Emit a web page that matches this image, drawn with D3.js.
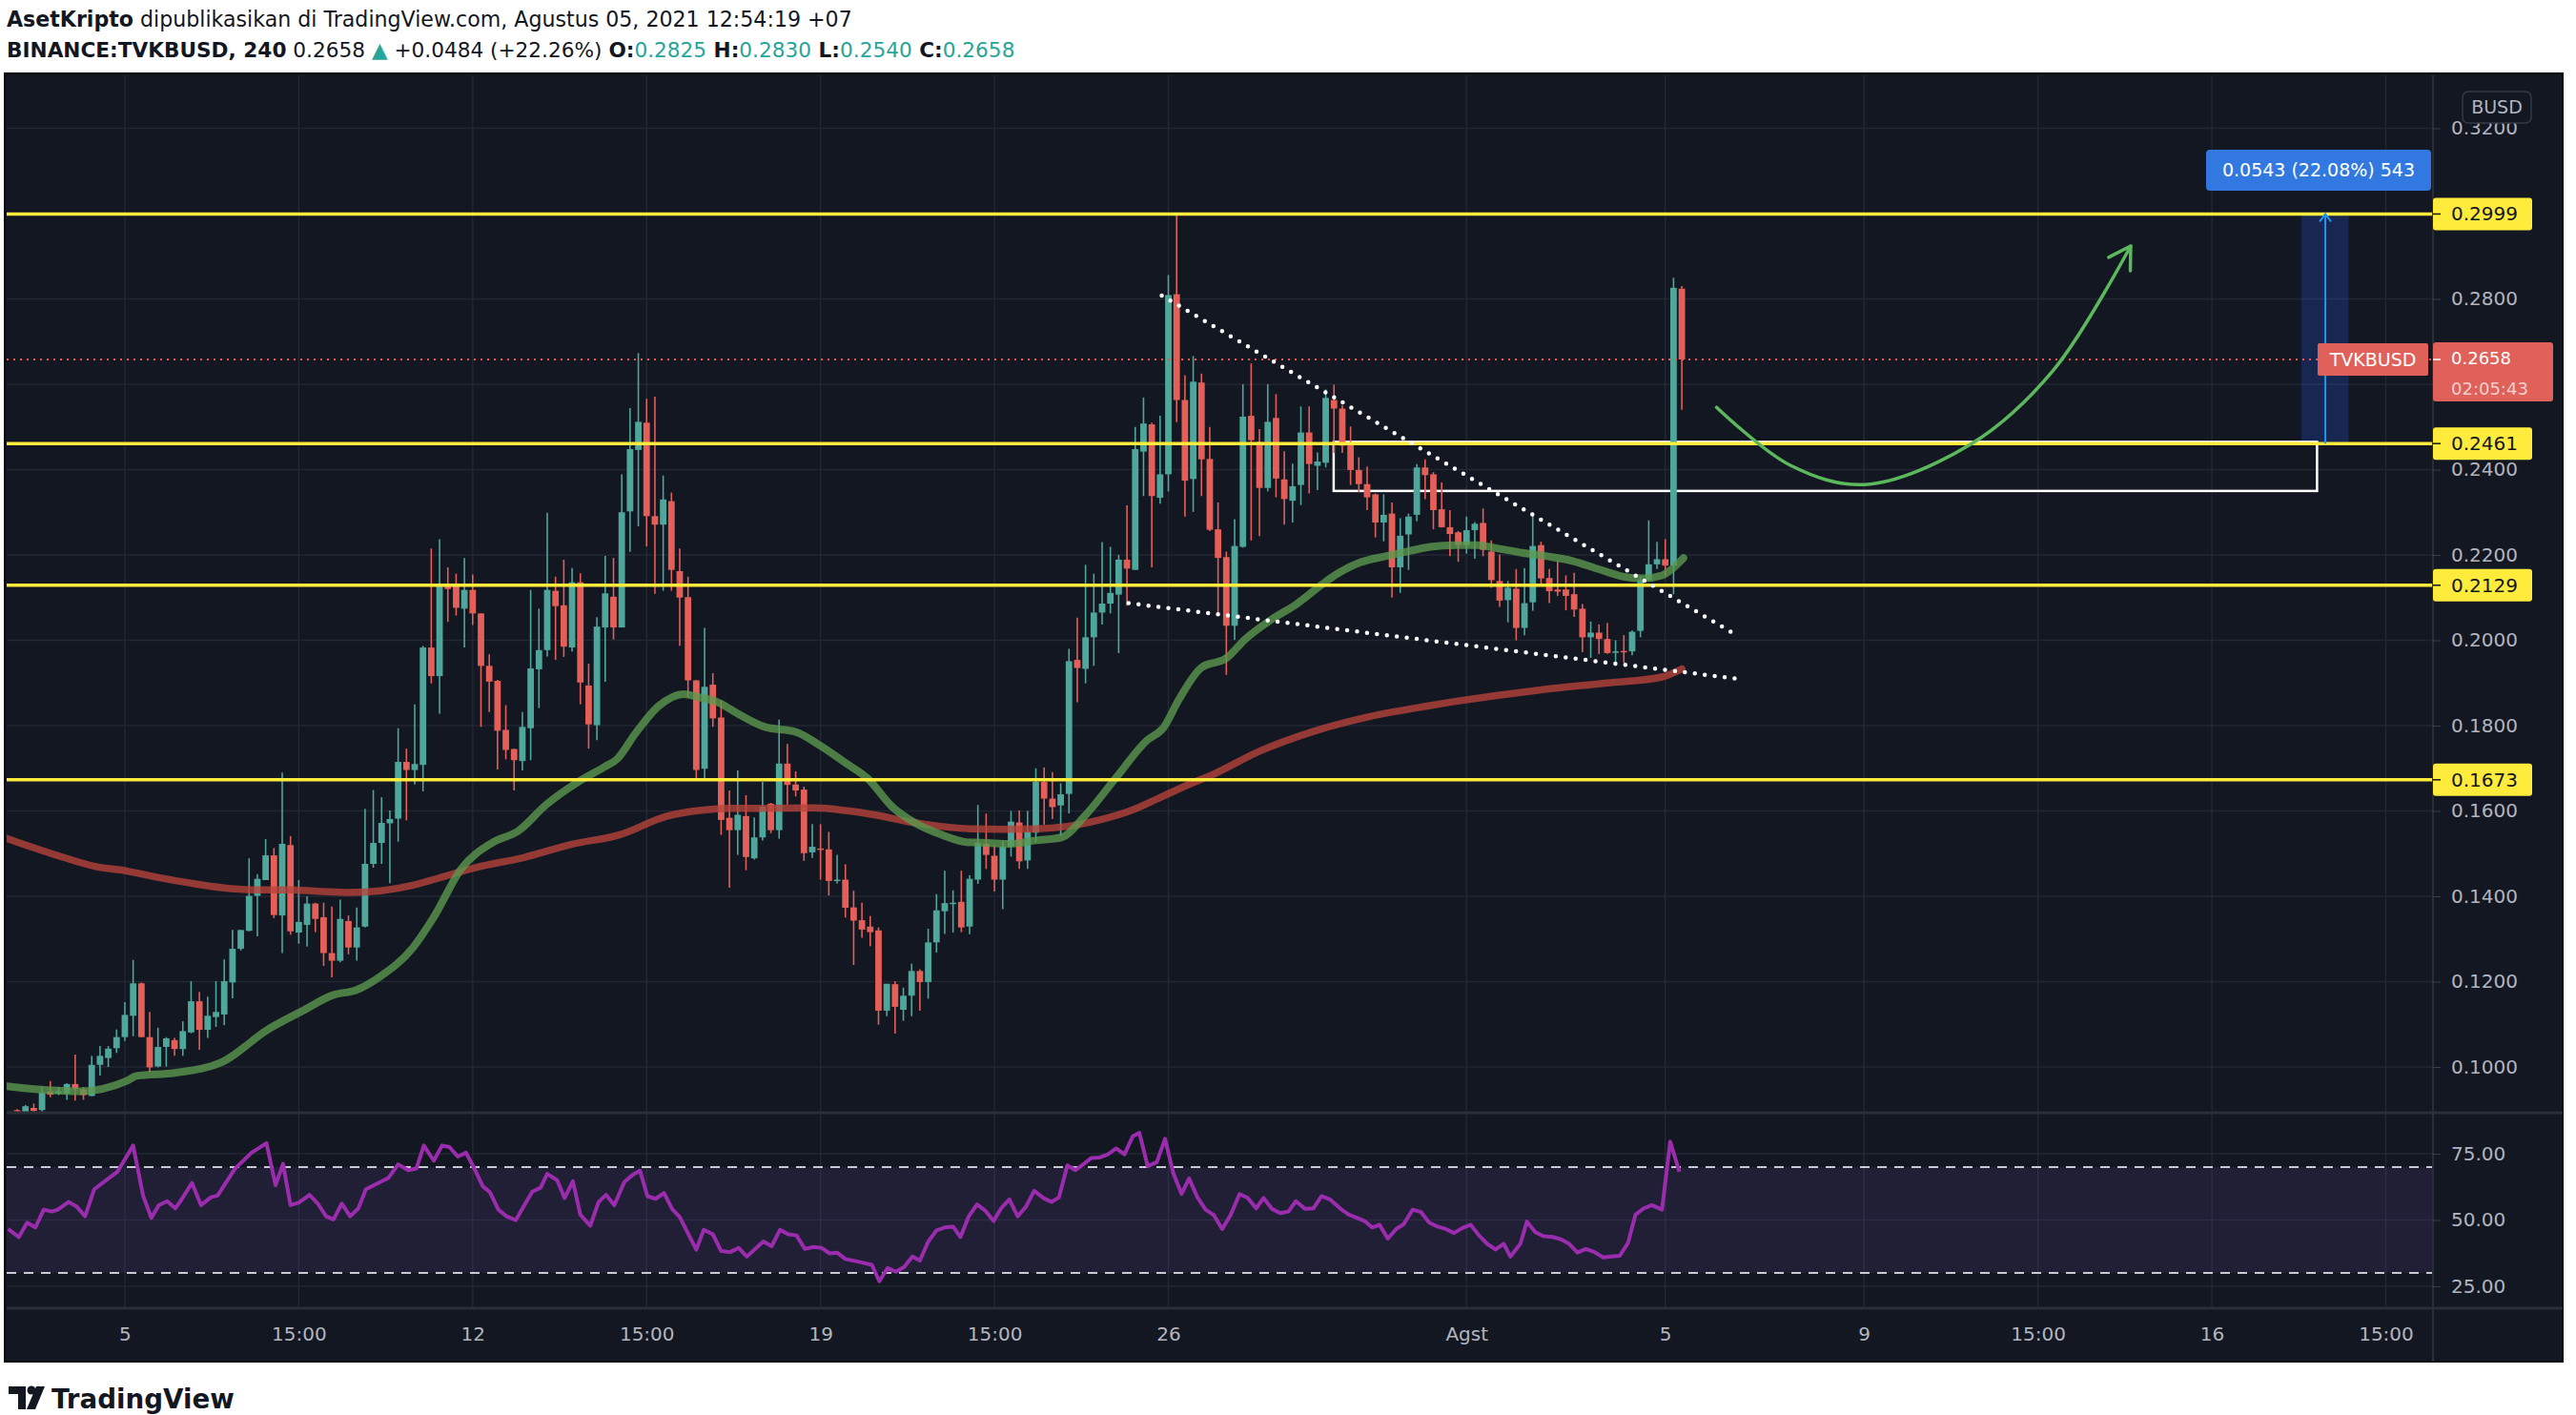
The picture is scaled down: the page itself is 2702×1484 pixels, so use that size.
<!DOCTYPE html>
<html lang="en">
<head>
<meta charset="UTF-8">
<title>TVKBUSD 240</title>
<script src="https://d3js.org/d3.v7.min.js"></script>
<style>
  body { margin: 0; background: #ffffff; }
  text { font-family: "DejaVu Sans", sans-serif; }
</style>
</head>
<body>
<script>

//Width and height
var w = 2702;
var h = 1484;

//4h candles, bar 0 = first visible bar
var open = [.0899,.0894,.0904,.0899,.0943,.0938,.0938,.0960,.0947,.0932,
  .1005,.1021,.1044,.1070,.1120,.1196,.1070,.1001,.1047,.1063,
  .1042,.1081,.1154,.1087,.1117,.1123,.1198,.1277,.1319,.1401,
  .1438,.1496,.1355,.1520,.1315,.1333,.1383,.1351,.1267,.1249,
  .1342,.1280,.1329,.1476,.1525,.1571,.1582,.1715,.1696,.1708,
  .1983,.1916,.2129,.2129,.2074,.2118,.2063,.1940,.1905,.1790,
  .1745,.1717,.1794,.1932,.1977,.2116,.2082,.1983,.2136,.1894,
  .1801,.2030,.2102,.2030,.2302,.2446,.2510,.2291,.2271,.2326,
  .2162,.2101,.1906,.1699,.1896,.1819,.1584,.1555,.1588,.1489,
  .1538,.1617,.1555,.1711,.1662,.1650,.1503,.1512,.1510,.1436,
  .1439,.1374,.1344,.1329,.1320,.1132,.1194,.1134,.1167,.1225,
  .1199,.1292,.1365,.1382,.1387,.1329,.1439,.1523,.1495,.1439,
  .1517,.1573,.1484,.1549,.1668,.1629,.1613,.1640,.1954,.1933,
  .2007,.2065,.2086,.2107,.2189,.2165,.2442,.2506,.2334,.2389,
  .2811,.2563,.2378,.2604,.2425,.2260,.2195,.2034,.2219,.2526,
  .2465,.2357,.2521,.2377,.2327,.2364,.2487,.2409,.2416,.2563,
  .2543,.2459,.2399,.2366,.2342,.2276,.2297,.2171,.2248,.2294,
  .2405,.2389,.2307,.2265,.2253,.2223,.2258,.2275,.2208,.2139,
  .2094,.2121,.2029,.2089,.2223,.2146,.2119,.2119,.2108,.2074,
  .2007,.2018,.2003,.1971,.1975,.1974,.2022,.2141,.2178,.2190,
  .2175,.2824];
var high = [.0901,.0911,.0914,.0953,.0967,.0953,.0962,.1029,.0953,.1026,
  .1049,.1049,.1088,.1152,.1251,.1198,.1129,.1092,.1070,.1068,
  .1107,.1201,.1176,.1165,.1201,.1252,.1321,.1321,.1489,.1452,
  .1534,.1513,.1690,.1541,.1438,.1400,.1385,.1385,.1376,.1392,
  .1355,.1374,.1605,.1649,.1632,.1601,.1794,.1746,.1850,.1987,
  .2215,.2237,.2171,.2156,.2193,.2154,.2063,.1967,.1907,.1848,
  .1746,.1832,.2118,.2074,.2299,.2149,.2189,.2169,.2157,.1945,
  .2054,.2198,.2193,.2389,.2544,.2673,.2566,.2571,.2386,.2346,
  .2215,.2149,.1907,.2029,.1923,.1859,.1648,.1695,.1637,.1585,
  .1668,.1619,.1814,.1757,.1693,.1657,.1569,.1569,.1551,.1497,
  .1475,.1413,.1385,.1354,.1327,.1195,.1201,.1186,.1242,.1229,
  .1324,.1405,.1460,.1414,.1460,.1449,.1614,.1594,.1519,.1531,
  .1600,.1601,.1600,.1700,.1702,.1691,.1665,.1980,.2053,.2177,
  .2156,.2230,.2219,.2200,.2316,.2500,.2569,.2510,.2526,.2856,
  .3000,.2621,.2666,.2625,.2500,.2323,.2208,.2284,.2600,.2649,
  .2495,.2600,.2577,.2443,.2414,.2548,.2548,.2440,.2588,.2599,
  .2551,.2501,.2429,.2407,.2344,.2342,.2323,.2286,.2297,.2413,
  .2424,.2394,.2370,.2305,.2256,.2290,.2277,.2309,.2234,.2201,
  .2139,.2167,.2169,.2299,.2231,.2167,.2186,.2152,.2158,.2085,
  .2044,.2037,.2041,.2000,.2012,.2023,.2149,.2281,.2231,.2237,
  .2850,.2830];
var low = [.0894,.0893,.0895,.0894,.0929,.0934,.0923,.0921,.0923,.0932,
  .0980,.1000,.1033,.1061,.1072,.1070,.0988,.0999,.1001,.1026,
  .1026,.1079,.1040,.1068,.1094,.1098,.1161,.1273,.1318,.1306,
  .1438,.1349,.1267,.1310,.1289,.1282,.1316,.1237,.1210,.1245,
  .1264,.1249,.1327,.1467,.1476,.1431,.1528,.1578,.1662,.1646,
  .1899,.1828,.2043,.2058,.1983,.2036,.1797,.1832,.1697,.1721,
  .1648,.1695,.1719,.1841,.1962,.1954,.1961,.1974,.1850,.1746,
  .1766,.1903,.2002,.2030,.2207,.2267,.2220,.2109,.2116,.2116,
  .1987,.1867,.1674,.1677,.1797,.1544,.1420,.1497,.1461,.1486,
  .1531,.1548,.1535,.1615,.1634,.1483,.1490,.1439,.1402,.1430,
  .1350,.1239,.1303,.1283,.1099,.1119,.1078,.1108,.1119,.1132,
  .1160,.1268,.1312,.1315,.1316,.1311,.1429,.1464,.1411,.1370,
  .1493,.1464,.1464,.1527,.1568,.1581,.1542,.1594,.1855,.1899,
  .1940,.2037,.2063,.1970,.2081,.2165,.2338,.2171,.2320,.2349,
  .2511,.2290,.2301,.2338,.2256,.2063,.1919,.2001,.2217,.2234,
  .2244,.2349,.2335,.2271,.2276,.2317,.2344,.2352,.2405,.2439,
  .2439,.2364,.2347,.2305,.2241,.2232,.2100,.2111,.2165,.2279,
  .2331,.2260,.2264,.2197,.2184,.2203,.2191,.2197,.2123,.2078,
  .2042,.2000,.2012,.2069,.2130,.2087,.2104,.2070,.2055,.1972,
  .1959,.1968,.1968,.1940,.1947,.1965,.2007,.2141,.2167,.2151,
  .2108,.2540];
var close = [.0896,.0908,.0897,.0940,.0935,.0943,.0960,.0949,.0934,.1005,
  .1026,.1043,.1070,.1122,.1196,.1070,.0999,.1047,.1067,.1042,
  .1084,.1154,.1087,.1120,.1129,.1201,.1277,.1321,.1401,.1441,
  .1496,.1356,.1523,.1318,.1340,.1383,.1347,.1267,.1249,.1347,
  .1280,.1327,.1476,.1525,.1572,.1581,.1715,.1696,.1710,.1983,
  .1916,.2129,.2120,.2076,.2118,.2063,.1940,.1903,.1788,.1743,
  .1719,.1797,.1934,.1977,.2118,.2080,.1985,.2136,.1901,.1803,
  .2032,.2110,.2030,.2300,.2448,.2512,.2291,.2271,.2330,.2165,
  .2100,.1906,.1696,.1891,.1817,.1579,.1555,.1591,.1492,.1538,
  .1610,.1555,.1711,.1661,.1648,.1501,.1516,.1510,.1436,.1439,
  .1373,.1343,.1322,.1316,.1132,.1195,.1141,.1167,.1225,.1199,
  .1292,.1367,.1384,.1385,.1327,.1441,.1525,.1497,.1439,.1517,
  .1575,.1482,.1551,.1668,.1629,.1609,.1639,.1951,.1935,.2007,
  .2065,.2086,.2111,.2189,.2168,.2448,.2508,.2338,.2389,.2809,
  .2563,.2374,.2606,.2424,.2259,.2193,.2034,.2221,.2524,.2469,
  .2357,.2512,.2379,.2331,.2361,.2487,.2413,.2419,.2568,.2543,
  .2456,.2399,.2366,.2335,.2276,.2294,.2171,.2245,.2290,.2405,
  .2387,.2305,.2265,.2249,.2223,.2258,.2273,.2212,.2141,.2093,
  .2123,.2029,.2087,.2221,.2145,.2115,.2114,.2104,.2072,.2007,
  .2018,.2003,.1970,.1974,.1972,.2020,.2141,.2178,.2190,.2175,
  .2826,.2658];

//Moving averages, read at bar positions
var greenBar = [-1.3,2.9,7.5,13.3,14.4,19,24.8,30.2,34.4,38.2,40.9,43.9,47.8,50.3,53.6,57.4,60.5,63.9,67.4,70.9,72.4,74.7,77.4,80.5,82.0,84.7,87.0,90.1,94.2,96.9,100,102.7,105.7,108.4,111.5,114.6,117.2,119.9,123,126.1,128.8,132.6,136.4,138.4,140.3,143.0,146.0,148.3,151.4,154.5,157.5,159.1,162.1,165.2,168.3,170.6,173.6,176.3,178.6,181.7,184.7,187.8,190.9,194,196.3,198.6,199.8,201.2];
var greenVal = [.0955,.0947,.0943,.0968,.0979,.0986,.1012,.1087,.1131,.1169,.1180,.1213,.1280,.1351,.1464,.1526,.1553,.1615,.1664,.1703,.1721,.1783,.1845,.1874,.1868,.1854,.1828,.1798,.1784,.1754,.1713,.1676,.1609,.1572,.1545,.1527,.1525,.1523,.1531,.1538,.1586,.1676,.1765,.1795,.1862,.1936,.1958,.2003,.2048,.2085,.2130,.2152,.2182,.2197,.2210,.2219,.2223,.2223,.2216,.2205,.2197,.2186,.2167,.2149,.2145,.2152,.2167,.2193];
var redBar = [-1.3,1.8,5.6,9.4,13.3,17.1,20.9,24.8,28.6,32.5,36.3,40.1,43.9,47.8,49.7,55.5,61.2,67,72.7,78.5,82.3,86.2,90,96.2,100,103.8,107.6,111.5,115.3,119.1,123,126.8,130.7,134.5,138.4,142.2,144.1,150,156.6,163,170.6,184,192,198.6,201];
var redVal = [.1536,.1515,.1491,.1470,.1459,.1444,.1431,.1420,.1415,.1415,.1412,.1409,.1413,.1426,.1436,.1468,.1491,.1522,.1544,.1588,.1601,.1606,.1606,.1607,.1601,.1590,.1575,.1564,.1558,.1557,.1558,.1564,.1579,.1601,.1635,.1668,.1683,.1740,.1787,.1820,.1847,.1884,.1900,.1914,.1933];

//RSI, read at bar positions
var rsiBar = [-1.1,0.2,1.2,2.2,3.2,4.2,4.9,6.2,7.2,8.2,9.3,12.1,14.0,15.2,16.2,17.1,18.1,19.1,19.9,21.1,22.2,23.4,24.2,26.3,28.3,30.1,31.2,32.1,33.0,34.0,35.3,36.3,37.3,38.2,39.2,40.2,41.2,42.1,44.8,46.0,47.2,48.2,49.1,50.3,51.3,52.2,53.2,54.2,55.3,56.2,57.1,58.1,59.1,60.2,61.2,62.2,63.2,64.0,65.2,66.1,67.1,68.0,69.2,70.2,71.1,72.1,73.3,74.3,75.2,76.1,77.1,78.1,79.1,80.0,82.0,82.9,84.0,85.0,86.1,87.1,88.1,90.1,91.1,92.1,93.1,94.1,95.1,96.1,97.1,98.1,99.0,100.0,101.5,103.2,104.1,105.1,106.1,107.1,108.1,109.0,110.0,111.0,112.0,113.0,113.9,114.9,115.9,116.9,117.9,118.8,119.8,120.8,121.8,122.8,123.9,124.9,125.8,126.8,127.8,128.8,129.7,130.7,131.7,132.7,133.7,134.7,135.5,136.5,137.6,138.6,139.6,140.6,141.5,142.5,143.5,144.5,145.5,146.5,147.6,148.6,149.6,150.5,151.5,152.5,153.5,154.4,155.5,156.5,157.5,158.5,159.8,160.8,161.8,162.8,163.6,164.5,165.5,166.5,167.4,168.5,169.5,170.5,171.5,172.5,173.5,174.5,175.5,176.5,177.5,178.5,179.5,180.3,181.5,182.3,183.3,184.3,185.4,186.4,187.4,188.4,189.4,190.4,191.5,192.5,193.5,194.5,195.4,196.4,197.4,198.6,199.6,200.7];
var rsiVal = [46.6,43.6,49.0,47.2,53.9,53.2,53.9,56.8,55.0,51.4,61.6,68.2,78.1,59.2,50.8,55.6,57.1,54.4,58.0,64.0,55.6,58.6,59.2,69.4,75.4,79.0,63.1,71.2,55.6,56.5,59.5,56.2,51.4,50.2,56.2,51.4,54.4,61.6,65.8,71.0,68.8,69.4,78.1,72.4,78.1,77.5,73.9,75.4,68.8,62.8,60.4,53.9,51.4,49.9,55.4,60.7,62.2,67.4,65.0,58.3,64.6,52.0,47.8,56.8,59.5,55.6,64.3,67.0,68.6,59.0,58.0,60.2,54.1,51.1,38.8,46.3,44.6,38.3,37.9,39.5,36.2,41.9,40.1,46.3,44.6,44.2,39.1,39.8,39.5,37.4,37.7,35.3,34.3,33.1,26.9,31.9,30.5,32.3,36.2,34.7,41.8,46.1,47.2,47.5,43.6,51.4,55.9,53.5,49.6,54.4,57.8,51.4,55.0,61.0,58.3,56.8,58.6,70.6,68.8,71.2,73.4,73.6,74.8,77.0,74.8,81.6,82.9,70.3,71.8,80.6,67.6,59.8,65.7,58.6,53.9,51.8,46.6,51.8,59.8,58.3,54.4,58.3,54.2,52.6,53.2,57.1,54.2,54.4,59.0,57.8,54.2,52.0,50.8,49.4,47.2,48.2,43.0,46.6,48.4,53.9,53.0,49.0,47.5,46.6,45.1,47.0,48.2,44.2,41.0,38.9,41.0,36.2,41.0,49.4,45.4,43.9,43.6,42.7,41.0,37.7,39.1,38.0,35.9,36.2,36.5,41.3,52.0,54.4,55.6,53.9,79.6,68.2];

//Axis ticks and labels (0.26 and 0.30 sit under the price labels, so only their grid lines show)
var priceTicks = [0.10,0.12,0.14,0.16,0.18,0.20,0.22,0.24,0.26,0.28,0.30,0.32];
var priceLabelTicks = [0.10,0.12,0.14,0.16,0.18,0.20,0.22,0.24,0.28,0.32];
var rsiTicks = [25,50,75];
var timeTickBar = [13,34,55,76,97,118,139,175,199,223,244,265,286];
var timeTickLabel = ["5","15:00","12","15:00","19","15:00","26","Agst","5","9","15:00","16","15:00"];

//Drawn levels and annotations
var levels = [0.2999, 0.2461, 0.2129, 0.1673];
var lastPrice = 0.2658;
var upperTrendBar = [138.2, 207.6], upperTrendPrice = [0.2808, 0.2012];
var lowerTrendBar = [134.2, 207.6], lowerTrendPrice = [0.2087, 0.1910];
var boxBar = [158.96, 277.7], boxPrice = [0.2465, 0.2350];
var rangeBar = [275.8, 281.5, 278.7], rangePrice = [0.2461, 0.2999];
var arrowBar = [205.2, 214.1, 223.1, 236.0, 245.9, 255.2];
var arrowPrice = [0.2546, 0.2410, 0.2365, 0.2461, 0.2634, 0.2924];

//Layout
var left = 7, right = 2552, paneTop = 79, paneBottom = 1167, rsiBottom = 1372, chartBottom = 1428;
var upColor = "#4fa69a", downColor = "#e35f57", gridColor = "#232733", textColor = "#b2b5be";

//Create scale functions
var xScale = d3.scaleLinear().domain([-1.27, 291.7]).range([left, right]);
var yScale = d3.scaleLinear().domain([0.1, 0.32]).range([1119, 134.5]);
var rScale = d3.scaleLinear().domain([25, 75]).range([1349, 1210]);

//Create SVG element
var svg = d3.select("body")
    .append("svg")
    .attr("width", w)
    .attr("height", h);

svg.append("rect").attr("width", w).attr("height", h).attr("fill", "#ffffff");
svg.append("rect")
    .attr("x", 5).attr("y", paneTop - 2)
    .attr("width", 2688 - 5).attr("height", chartBottom - paneTop + 2)
    .attr("fill", "#131722").attr("stroke", "#050608").attr("stroke-width", 2);

var defs = svg.append("defs");
defs.append("clipPath").attr("id", "mainClip").append("rect")
    .attr("x", left).attr("y", paneTop).attr("width", right - left).attr("height", paneBottom - paneTop);
defs.append("clipPath").attr("id", "rsiClip").append("rect")
    .attr("x", left).attr("y", paneBottom).attr("width", right - left).attr("height", rsiBottom - paneBottom);

//Grid
svg.append("g").selectAll("line").data(priceTicks).enter().append("line")
    .attr("x1", left).attr("x2", right)
    .attr("y1", function(d) { return yScale(d); }).attr("y2", function(d) { return yScale(d); })
    .attr("stroke", gridColor).attr("stroke-width", 1.5);
svg.append("g").selectAll("line").data(rsiTicks).enter().append("line")
    .attr("x1", left).attr("x2", right)
    .attr("y1", function(d) { return rScale(d); }).attr("y2", function(d) { return rScale(d); })
    .attr("stroke", gridColor).attr("stroke-width", 1.5);
svg.append("g").selectAll("line").data(timeTickBar).enter().append("line")
    .attr("x1", function(d) { return xScale(d); }).attr("x2", function(d) { return xScale(d); })
    .attr("y1", paneTop).attr("y2", rsiBottom)
    .attr("stroke", gridColor).attr("stroke-width", 1.5);

//RSI pane
var rsiG = svg.append("g").attr("clip-path", "url(#rsiClip)");
rsiG.append("rect")
    .attr("x", left).attr("width", right - left)
    .attr("y", rScale(70)).attr("height", rScale(30) - rScale(70))
    .attr("fill", "#7e57c2").attr("opacity", 0.13);
rsiG.selectAll("line.band").data([70, 30]).enter().append("line")
    .attr("x1", left).attr("x2", right)
    .attr("y1", function(d) { return rScale(d); }).attr("y2", function(d) { return rScale(d); })
    .attr("stroke", "#c8cad2").attr("stroke-width", 2).attr("stroke-dasharray", "10 8");
var rsiLine = d3.line()
    .x(function(d, i) { return xScale(rsiBar[i]); })
    .y(function(d) { return rScale(d); });
rsiG.append("path").attr("d", rsiLine(rsiVal))
    .attr("fill", "none").attr("stroke", "#9b2cad").attr("stroke-width", 4)
    .attr("stroke-linejoin", "round");

//Main pane
var mainG = svg.append("g").attr("clip-path", "url(#mainClip)");

//Price range tool and white box
mainG.append("rect")
    .attr("x", xScale(rangeBar[0])).attr("width", xScale(rangeBar[1]) - xScale(rangeBar[0]))
    .attr("y", yScale(rangePrice[1])).attr("height", yScale(rangePrice[0]) - yScale(rangePrice[1]))
    .attr("fill", "#2962ff").attr("opacity", 0.22);
mainG.append("rect")
    .attr("x", xScale(boxBar[0])).attr("width", xScale(boxBar[1]) - xScale(boxBar[0]))
    .attr("y", yScale(boxPrice[0])).attr("height", yScale(boxPrice[1]) - yScale(boxPrice[0]))
    .attr("fill", "none").attr("stroke", "#ffffff").attr("stroke-width", 2.5);

//Candles
var bars = d3.range(open.length);
mainG.selectAll("line.wick").data(bars).enter().append("line")
    .attr("x1", function(i) { return xScale(i); }).attr("x2", function(i) { return xScale(i); })
    .attr("y1", function(i) { return yScale(high[i]); }).attr("y2", function(i) { return yScale(low[i]); })
    .attr("stroke", function(i) { return close[i] >= open[i] ? upColor : downColor; })
    .attr("stroke-width", 1.6);
mainG.selectAll("rect.body").data(bars).enter().append("rect")
    .attr("x", function(i) { return xScale(i) - 3.4; })
    .attr("width", 6.8)
    .attr("y", function(i) { return yScale(Math.max(open[i], close[i])); })
    .attr("height", function(i) { return Math.max(1.5, Math.abs(yScale(open[i]) - yScale(close[i]))); })
    .attr("fill", function(i) { return close[i] >= open[i] ? upColor : downColor; });

//Moving averages
var maLine = d3.line().curve(d3.curveMonotoneX);
mainG.append("path")
    .attr("d", maLine(redBar.map(function(b, i) { return [xScale(b), yScale(redVal[i])]; })))
    .attr("fill", "none").attr("stroke", "#b8433a").attr("stroke-width", 7.5)
    .attr("opacity", 0.78).attr("stroke-linecap", "round");
mainG.append("path")
    .attr("d", maLine(greenBar.map(function(b, i) { return [xScale(b), yScale(greenVal[i])]; })))
    .attr("fill", "none").attr("stroke", "#5b9a4f").attr("stroke-width", 8)
    .attr("opacity", 0.78).attr("stroke-linecap", "round");

//Horizontal levels
mainG.selectAll("line.level").data(levels).enter().append("line")
    .attr("x1", left).attr("x2", right)
    .attr("y1", function(d) { return yScale(d); }).attr("y2", function(d) { return yScale(d); })
    .attr("stroke", "#ffeb3b").attr("stroke-width", 3.5);
mainG.append("line")
    .attr("x1", left).attr("x2", right)
    .attr("y1", yScale(lastPrice)).attr("y2", yScale(lastPrice))
    .attr("stroke", "#ef5350").attr("stroke-width", 2).attr("stroke-dasharray", "2 5");

//Dotted trend lines
[[upperTrendBar, upperTrendPrice], [lowerTrendBar, lowerTrendPrice]].forEach(function(t) {
    mainG.append("line")
        .attr("x1", xScale(t[0][0])).attr("y1", yScale(t[1][0]))
        .attr("x2", xScale(t[0][1])).attr("y2", yScale(t[1][1]))
        .attr("stroke", "#ffffff").attr("stroke-width", 4.5)
        .attr("stroke-linecap", "round").attr("stroke-dasharray", "0 10.5");
});

//Range arrow
mainG.append("line")
    .attr("x1", xScale(rangeBar[2])).attr("x2", xScale(rangeBar[2]))
    .attr("y1", yScale(rangePrice[0])).attr("y2", yScale(rangePrice[1]))
    .attr("stroke", "#2196f3").attr("stroke-width", 2);
mainG.append("path")
    .attr("d", "M" + (xScale(rangeBar[2]) - 6) + "," + (yScale(rangePrice[1]) + 8) +
        "L" + xScale(rangeBar[2]) + "," + yScale(rangePrice[1]) +
        "L" + (xScale(rangeBar[2]) + 6) + "," + (yScale(rangePrice[1]) + 8))
    .attr("fill", "none").attr("stroke", "#2196f3").attr("stroke-width", 2);

//Green curved arrow
var arrowPts = arrowBar.map(function(b, i) { return [xScale(b), yScale(arrowPrice[i])]; });
mainG.append("path")
    .attr("d", d3.line().curve(d3.curveCatmullRom)(arrowPts))
    .attr("fill", "none").attr("stroke", "#5cb85c").attr("stroke-width", 3.5)
    .attr("stroke-linecap", "round");
var tip = arrowPts[arrowPts.length - 1], prev = arrowPts[arrowPts.length - 2];
var ang = Math.atan2(tip[1] - prev[1], tip[0] - prev[0]);
var headPts = [ang + 2.6, ang - 2.6].map(function(a) { return [tip[0] + 26 * Math.cos(a), tip[1] + 26 * Math.sin(a)]; });
mainG.append("path")
    .attr("d", "M" + headPts[0] + "L" + tip + "L" + headPts[1])
    .attr("fill", "none").attr("stroke", "#5cb85c").attr("stroke-width", 3.5)
    .attr("stroke-linecap", "round").attr("stroke-linejoin", "round");

//Pane separators
svg.append("line").attr("x1", left).attr("x2", 2688).attr("y1", paneBottom).attr("y2", paneBottom)
    .attr("stroke", "#2a2e39").attr("stroke-width", 3);
svg.append("line").attr("x1", left).attr("x2", 2688).attr("y1", rsiBottom).attr("y2", rsiBottom)
    .attr("stroke", "#2a2e39").attr("stroke-width", 3);
svg.append("line").attr("x1", right).attr("x2", right).attr("y1", paneTop).attr("y2", chartBottom)
    .attr("stroke", "#2a2e39").attr("stroke-width", 2);

//Axes
var priceAxis = svg.append("g")
    .attr("transform", "translate(" + right + ",0)")
    .call(d3.axisRight(yScale).tickValues(priceLabelTicks).tickFormat(d3.format(".4f")).tickSize(8).tickPadding(11));
var rsiAxis = svg.append("g")
    .attr("transform", "translate(" + right + ",0)")
    .call(d3.axisRight(rScale).tickValues(rsiTicks).tickFormat(d3.format(".2f")).tickSize(8).tickPadding(11));
var timeAxis = svg.append("g")
    .attr("transform", "translate(0," + rsiBottom + ")")
    .call(d3.axisBottom(xScale).tickValues(timeTickBar)
        .tickFormat(function(d, i) { return timeTickLabel[i]; }).tickSize(0).tickPadding(20));
[priceAxis, rsiAxis, timeAxis].forEach(function(a) {
    a.select(".domain").remove();
    a.selectAll("line").attr("stroke", "#3a3e4a");
    a.selectAll("text").attr("fill", textColor).attr("font-size", "20px")
        .attr("font-family", "DejaVu Sans");
});

//Axis labels for levels
function axisLabel(price, fill, txtColor, label) {
    var g = svg.append("g").attr("transform", "translate(" + right + "," + yScale(price) + ")");
    g.append("rect").attr("x", 0).attr("y", -17).attr("width", 104).attr("height", 34)
        .attr("rx", 3).attr("fill", fill);
    g.append("line").attr("x1", 0).attr("x2", 8).attr("stroke", txtColor).attr("stroke-width", 1.5);
    g.append("text").attr("x", 19).attr("y", 7).attr("fill", txtColor)
        .attr("font-size", "20px").text(label);
}
levels.forEach(function(l) { axisLabel(l, "#ffeb3b", "#131722", d3.format(".4f")(l)); });

//Last price label
var lp = svg.append("g").attr("transform", "translate(" + right + "," + yScale(lastPrice) + ")");
lp.append("rect").attr("x", 0).attr("y", -18).attr("width", 126).attr("height", 62)
    .attr("rx", 3).attr("fill", "#e0605a");
lp.append("line").attr("x1", 0).attr("x2", 8).attr("stroke", "#ffffff").attr("stroke-width", 1.5);
lp.append("text").attr("x", 19).attr("y", 5).attr("fill", "#ffffff").attr("font-size", "18px")
    .text(d3.format(".4f")(lastPrice));
lp.append("text").attr("x", 19).attr("y", 37).attr("fill", "#f4d0ce").attr("font-size", "18px")
    .text("02:05:43");
var sym = svg.append("g").attr("transform", "translate(" + (right - 121) + "," + yScale(lastPrice) + ")");
sym.append("rect").attr("x", 0).attr("y", -17).attr("width", 116).attr("height", 34)
    .attr("rx", 2).attr("fill", "#e0605a");
sym.append("text").attr("x", 58).attr("y", 7).attr("text-anchor", "middle")
    .attr("fill", "#ffffff").attr("font-size", "19px").text("TVKBUSD");

//Range label
var rl = svg.append("g").attr("transform", "translate(2314,157)");
rl.append("rect").attr("width", 236).attr("height", 43).attr("rx", 4).attr("fill", "#3179e0");
rl.append("text").attr("x", 118).attr("y", 28).attr("text-anchor", "middle")
    .attr("fill", "#ffffff").attr("font-size", "19px").text("0.0543 (22.08%) 543");

//Currency badge
var cb = svg.append("g").attr("transform", "translate(2583,96)");
cb.append("rect").attr("width", 72).attr("height", 33).attr("rx", 6)
    .attr("fill", "#131722").attr("stroke", "#363a45").attr("stroke-width", 1.5);
cb.append("text").attr("x", 36).attr("y", 23).attr("text-anchor", "middle")
    .attr("fill", textColor).attr("font-size", "19px").text("BUSD");

//Header, font size fitted to the measured width
var hdrFont = "'Liberation Sans Narrow', 'Open Sans', sans-serif";
function fitText(t, target) {
    var len = t.node().getComputedTextLength();
    if (len > 0) t.attr("font-size", (27 * target / len).toFixed(2) + "px");
}
var h1 = svg.append("text").attr("x", 7).attr("y", 28).attr("font-size", "27px")
    .attr("font-family", hdrFont).attr("fill", "#131722");
h1.append("tspan").attr("font-weight", "bold").text("AsetKripto");
h1.append("tspan").text(" dipublikasikan di TradingView.com, Agustus 05, 2021 12:54:19 +07");
fitText(h1, 887);

var teal = "#26a69a";
var h2 = svg.append("text").attr("x", 7).attr("y", 60).attr("font-size", "27px")
    .attr("font-family", hdrFont).attr("fill", "#131722");
[["BINANCE:TVKBUSD, 240", "bold", null], [" 0.2658 ", null, null], ["\u25B2", null, teal],
 [" +0.0484 (+22.26%) ", null, null], ["O:", "bold", null], ["0.2825", null, teal],
 [" H:", "bold", null], ["0.2830", null, teal], [" L:", "bold", null], ["0.2540", null, teal],
 [" C:", "bold", null], ["0.2658", null, teal]].forEach(function(p) {
    var t = h2.append("tspan").text(p[0]);
    if (p[1]) t.attr("font-weight", p[1]);
    if (p[2]) t.attr("fill", p[2]);
});
fitText(h2, 1058);

//Footer logo
var logo = svg.append("g").attr("fill", "#131722");
logo.append("path").attr("d", "M9,1454 H27 V1478 H19 V1462 H9 Z");
logo.append("circle").attr("cx", 33).attr("cy", 1458).attr("r", 4.5);
logo.append("path").attr("d", "M28,1478 L38,1454 H47 L37,1478 Z");
var brand = logo.append("text").attr("x", 54).attr("y", 1477).attr("font-size", "29px")
    .attr("font-weight", "bold").attr("font-family", hdrFont).text("TradingView");
var bl = brand.node().getComputedTextLength();
if (bl > 0) brand.attr("font-size", (29 * 192 / bl).toFixed(2) + "px");

</script>
</body>
</html>
